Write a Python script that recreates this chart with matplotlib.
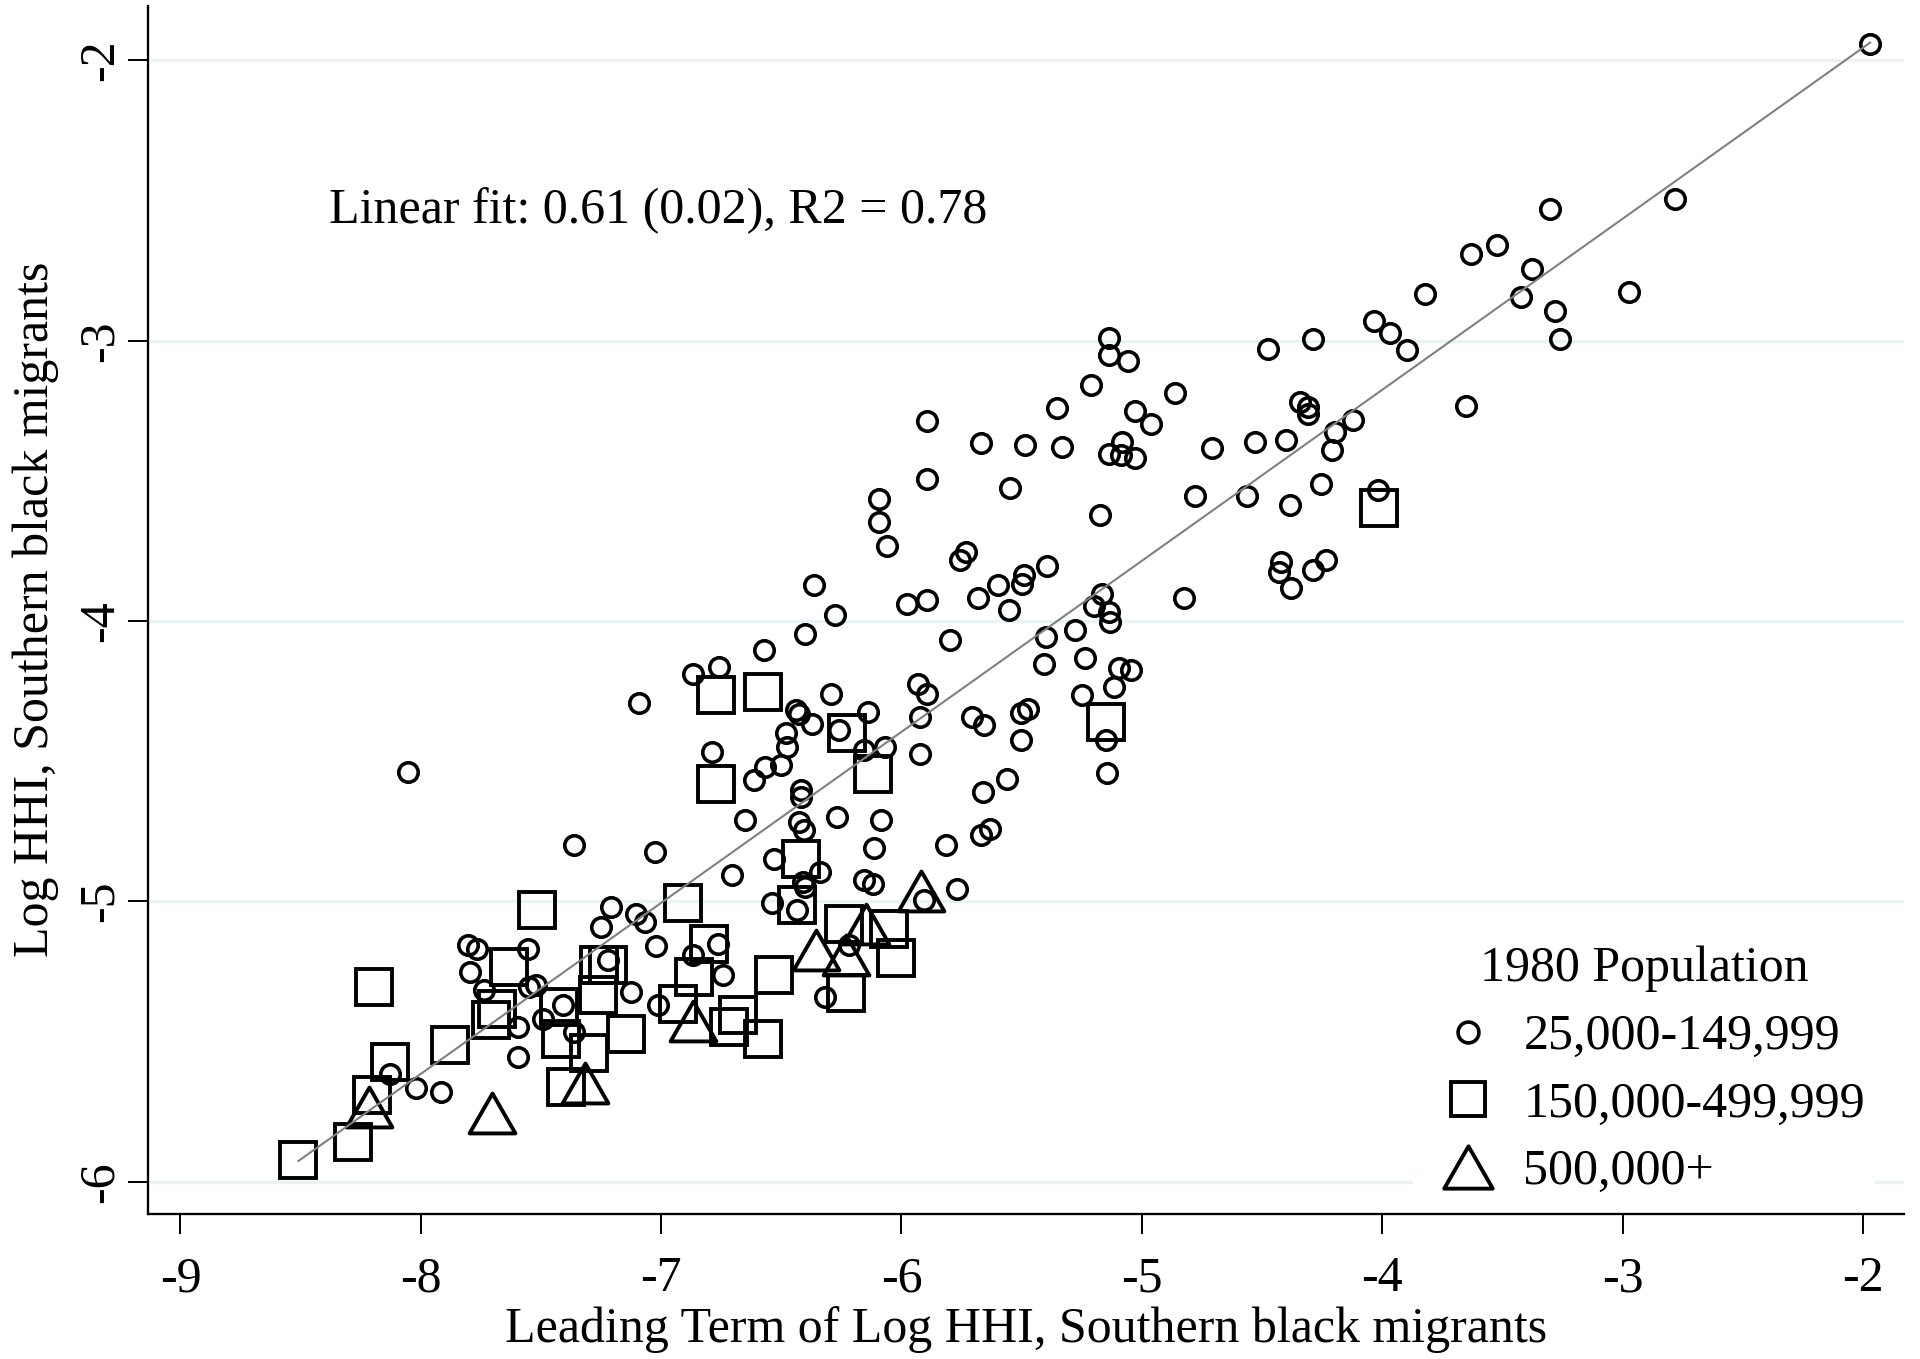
import matplotlib
matplotlib.use("Agg")
import matplotlib.pyplot as plt
from matplotlib.lines import Line2D
from matplotlib.markers import MarkerStyle
from matplotlib.path import Path

plt.rcParams['font.family'] = ['Liberation Serif', 'DejaVu Serif']
plt.rcParams['axes.unicode_minus'] = False

# 25,000-149,999
small_x = [-1.970, -2.780, -3.300, -3.523, -3.629, -3.378, -3.421, -2.973, -3.282, -3.261,
           -3.824, -4.034, -3.967, -3.898, -4.288, -4.474, -4.861, -4.960, -4.344, -4.310,
           -4.308, -3.651, -4.121, -4.198, -4.208, -4.709, -4.529, -4.399, -4.778, -4.561,
           -4.384, -4.254, -4.018, -4.421, -4.430, -4.379, -4.286, -4.232, -4.826, -5.136,
           -5.136, -5.057, -5.210, -5.354, -5.030, -5.894, -5.671, -5.485, -5.332, -5.081,
           -5.136, -5.085, -5.030, -5.894, -5.550, -6.093, -6.093, -6.061, -5.173, -5.730,
           -5.755, -5.396, -5.489, -5.498, -5.597, -5.681, -5.552, -6.362, -6.275, -6.403,
           -6.570, -5.976, -5.894, -5.800, -5.164, -5.201, -5.136, -5.133, -5.280, -5.400,
           -5.238, -5.406, -5.096, -5.044, -5.115, -5.248, -5.931, -5.894, -6.292, -6.869,
           -6.761, -5.504, -5.473, -5.504, -5.708, -5.658, -5.924, -5.924, -6.141, -6.262,
           -6.070, -6.154, -6.438, -6.428, -6.373, -6.479, -6.475, -6.503, -6.568, -6.614,
           -7.094, -6.787, -6.420, -6.420, -6.652, -6.267, -6.085, -6.428, -6.405, -5.560,
           -5.662, -5.148, -5.144, -5.630, -5.668, -5.816, -6.113, -6.531, -6.340, -6.704,
           -7.027, -7.361, -6.410, -6.400, -6.154, -6.117, -5.770, -5.905, -6.537, -6.433,
           -7.209, -7.250, -7.106, -7.069, -8.054, -7.021, -6.217, -6.318, -6.765, -6.869,
           -6.744, -7.015, -7.125, -7.222, -7.361, -7.410, -7.493, -7.597, -7.555, -7.548,
           -7.520, -7.597, -8.128, -8.020, -7.918, -7.803, -7.766, -7.794, -7.738]
small_y = [-1.940, -2.496, -2.529, -2.660, -2.692, -2.743, -2.844, -2.826, -2.894, -2.993,
           -2.832, -2.930, -2.973, -3.034, -2.993, -3.028, -3.187, -3.296, -3.219, -3.236,
           -3.260, -3.234, -3.284, -3.326, -3.391, -3.383, -3.361, -3.353, -3.554, -3.555,
           -3.587, -3.510, -3.534, -3.789, -3.825, -3.881, -3.816, -3.781, -3.916, -2.989,
           -3.052, -3.072, -3.159, -3.239, -3.252, -3.286, -3.365, -3.373, -3.379, -3.361,
           -3.405, -3.409, -3.417, -3.492, -3.524, -3.563, -3.647, -3.733, -3.623, -3.754,
           -3.783, -3.805, -3.837, -3.866, -3.872, -3.916, -3.959, -3.872, -3.979, -4.045,
           -4.102, -3.938, -3.926, -4.066, -3.902, -3.947, -3.968, -4.003, -4.030, -4.057,
           -4.130, -4.154, -4.169, -4.175, -4.235, -4.265, -4.223, -4.259, -4.259, -4.190,
           -4.164, -4.326, -4.312, -4.423, -4.342, -4.372, -4.342, -4.475, -4.324, -4.389,
           -4.449, -4.461, -4.316, -4.330, -4.366, -4.399, -4.449, -4.514, -4.520, -4.568,
           -4.292, -4.467, -4.603, -4.627, -4.710, -4.699, -4.710, -4.716, -4.746, -4.562,
           -4.609, -4.425, -4.542, -4.740, -4.764, -4.800, -4.811, -4.847, -4.895, -4.907,
           -4.823, -4.800, -4.930, -4.950, -4.924, -4.936, -4.954, -4.996, -5.007, -5.031,
           -5.020, -5.091, -5.043, -5.073, -4.540, -5.160, -5.156, -5.341, -5.150, -5.192,
           -5.263, -5.370, -5.323, -5.210, -5.465, -5.370, -5.418, -5.448, -5.168, -5.305,
           -5.299, -5.554, -5.616, -5.664, -5.679, -5.156, -5.168, -5.251, -5.317]

# 150,000-499,999
mid_x = [-4.013, -6.772, -6.577, -6.225, -6.117, -5.151, -6.772, -6.417, -6.433, -6.908,
         -7.518, -6.238, -6.051, -6.023, -6.231, -6.529, -6.800, -6.862, -6.931, -6.682,
         -6.716, -6.578, -7.146, -7.257, -7.222, -7.264, -7.299, -7.416, -7.424, -7.631,
         -7.708, -7.682, -8.509, -8.282, -8.202, -8.128, -8.193, -7.877, -7.394]
mid_y = [-3.595, -4.265, -4.253, -4.399, -4.544, -4.360, -4.580, -4.850, -5.014, -5.005,
         -5.031, -5.079, -5.097, -5.200, -5.328, -5.263, -5.150, -5.269, -5.364, -5.406,
         -5.448, -5.489, -5.471, -5.228, -5.228, -5.334, -5.542, -5.489, -5.376, -5.233,
         -5.424, -5.382, -5.923, -5.858, -5.691, -5.572, -5.305, -5.513, -5.662]

# 500,000+
big_x = [-8.215, -7.705, -7.317, -6.869, -6.356, -6.231, -6.148, -5.918]
big_y = [-5.733, -5.753, -5.646, -5.425, -5.174, -5.192, -5.079, -4.961]

fit_slope = 0.61
fit_intercept = -0.735
fit_text = "Linear fit: 0.61 (0.02), R2 = 0.78"

xticks = [-9, -8, -7, -6, -5, -4, -3, -2]
yticks = [-6, -5, -4, -3, -2]
legend_title = "1980 Population"
legend_labels = ["25,000-149,999", "150,000-499,999", "500,000+"]

fig = plt.figure(figsize=(19.2, 13.59), dpi=100)
ax = fig.add_axes([148 / 1920, 1 - 1213.5 / 1359, (1904 - 148) / 1920, (1213.5 - 6) / 1359])

tri = MarkerStyle(Path([(-0.575, -0.5), (0.575, -0.5), (0, 0.5), (0, 0)],
                       [Path.MOVETO, Path.LINETO, Path.LINETO, Path.CLOSEPOLY]),
                  joinstyle='miter')
sq = MarkerStyle('s', joinstyle='miter')

ax.plot(small_x, small_y, ls='none', marker='o', ms=14, mfc='none', mec='black', mew=2.6, zorder=3)
ax.plot(mid_x, mid_y, ls='none', marker=sq, ms=25.5, mfc='none', mec='black', mew=2.8, zorder=3)
ax.plot(big_x, big_y, ls='none', marker=tri, ms=33, mfc='none', mec='black', mew=2.8, zorder=3)

fx = [min(small_x + mid_x + big_x), max(small_x + mid_x + big_x)]
ax.plot(fx, [fit_slope * v + fit_intercept for v in fx], color='#808080', lw=1.5, zorder=4)

ax.text(-8.384, -2.581, fit_text, fontsize=36, ha='left', va='baseline')

ax.set_xlim(-9.135, -1.829)
ax.set_ylim(-6.113, -1.806)
ax.set_xticks(xticks)
ax.set_xticklabels([str(t) for t in xticks])
ax.set_yticks(yticks)
ax.set_yticklabels([str(t) for t in yticks], rotation=90, va='center')
ax.tick_params(axis='both', labelsize=36, length=14.4, width=1.4, direction='out')
ax.tick_params(axis='x', pad=16)
ax.tick_params(axis='y', pad=3)

ax.grid(axis='y', color='#eaf2f3', lw=2.4, zorder=0)
ax.grid(axis='x', visible=False)
ax.set_axisbelow(True)
for s in ['top', 'right']:
    ax.spines[s].set_visible(False)
for s in ['left', 'bottom']:
    ax.spines[s].set_linewidth(1.65)

ax.set_xlabel("Leading Term of Log HHI, Southern black migrants", fontsize=36, labelpad=3)
ax.set_ylabel("Log HHI, Southern black migrants", fontsize=36, labelpad=13)

handles = [
    Line2D([], [], ls='none', marker='o', ms=15, mfc='none', mec='black', mew=2.6),
    Line2D([], [], ls='none', marker=sq, ms=24, mfc='none', mec='black', mew=2.8),
    Line2D([], [], ls='none', marker=tri, ms=35, mfc='none', mec='black', mew=2.8),
]
ax.legend(handles, legend_labels, title=legend_title, fontsize=36, title_fontsize=36,
          loc='lower right', bbox_to_anchor=(1875 / 1920, 1 - 1205 / 1359),
          bbox_transform=fig.transFigure, frameon=True, facecolor='white',
          edgecolor='none', framealpha=1, fancybox=False, handlelength=1.8,
          handletextpad=0.2, labelspacing=0.42, borderpad=0.2, borderaxespad=0)

fig.savefig("out.png", dpi=100)
